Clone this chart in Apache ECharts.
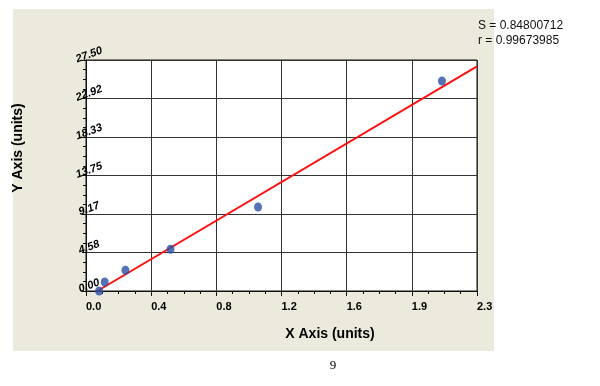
<!DOCTYPE html>
<html><head><meta charset="utf-8">
<script src="https://cdn.jsdelivr.net/npm/echarts@6/dist/echarts.min.js"></script>
<style>html,body{margin:0;padding:0;background:#fff}#c{width:600px;height:386px}</style>
</head><body><div id="c"></div>
<script>
const xTickLabels = ['0.0','0.4','0.8','1.2','1.6','1.9','2.3'];
const yTickLabels = ['0.00','4.58','9.17','13.75','18.33','22.92','27.50'];
const pointsX = [0.077, 0.110, 0.232, 0.497, 1.012, 2.094];
const pointsY = [0.0, 1.07, 2.47, 4.97, 10.0, 25.0];
const fitX = [0.067, 2.3];
const fitY = [0.0, 26.74];
const statS = 'S = 0.84800712';
const statR = 'r = 0.99673985';
const xTitle = 'X Axis (units)';
const yTitle = 'Y Axis (units)';
const pageNum = '9';

const xMax = 2.3, yMax = 27.5;
const xInt = xMax / 6, yInt = yMax / 6;

const chart = echarts.init(document.getElementById('c'), null, {renderer:'canvas'});
chart.setOption({
  animation: false,
  backgroundColor: '#fff',
  graphic: [
    {type:'rect', z:-10, shape:{x:13,y:9,width:481,height:342}, style:{fill:'#eceadc'}},
    {type:'text', left:478, top:20, style:{text:statS, font:'12px "Liberation Sans", Arial', fill:'#111'}},
    {type:'text', left:478, top:35, style:{text:statR, font:'12px "Liberation Sans", Arial', fill:'#111'}},
    {type:'text', x:330, y:334, style:{text:xTitle, font:'bold 14px "Liberation Sans", Arial', fill:'#000', align:'center', verticalAlign:'middle'}},
    {type:'text', x:18, y:148, rotation:Math.PI/2, style:{text:yTitle, font:'bold 14px "Liberation Sans", Arial', fill:'#000', align:'center', verticalAlign:'middle'}},
    {type:'text', x:333, y:366, style:{text:pageNum, font:'13px "Liberation Serif", serif', fill:'#000', align:'center', verticalAlign:'middle'}}
  ],
  grid: {left:86, top:60, right:123, bottom:95, show:true, backgroundColor:'#fff', borderColor:'#111', borderWidth:1},
  xAxis: {
    type:'value', min:0, max:xMax, interval:xInt,
    axisLine:{show:true, onZero:false, lineStyle:{color:'#111', width:1}},
    axisTick:{show:true, length:5, lineStyle:{color:'#111'}},
    minorTick:{show:true, splitNumber:4, length:3, lineStyle:{color:'#111'}},
    splitLine:{show:true, lineStyle:{color:'#333', width:1}},
    axisLabel:{margin:10, align:'left', color:'#000', fontWeight:'bold', fontSize:11, fontFamily:'"Liberation Sans", Arial',
      formatter:function(v){return xTickLabels[Math.round(v/xInt)];}}
  },
  yAxis: {
    type:'value', min:0, max:yMax, interval:yInt,
    axisLine:{show:true, onZero:false, lineStyle:{color:'#111', width:1}},
    axisTick:{show:true, length:4, lineStyle:{color:'#111'}},
    minorTick:{show:true, splitNumber:4, length:3, lineStyle:{color:'#111'}},
    splitLine:{show:true, lineStyle:{color:'#333', width:1}},
    axisLabel:{margin:-5, rotate:20, align:'center', verticalAlign:'bottom', color:'#000', fontWeight:'bold', fontStyle:'italic', fontSize:11, fontFamily:'"Liberation Sans", Arial',
      formatter:function(v){return yTickLabels[Math.round(v/yInt)];}}
  },
  series: [
    {type:'line', data:fitX.map((x,i)=>[x,fitY[i]]), showSymbol:false, lineStyle:{color:'#ff1010', width:2}, z:3},
    {type:'scatter', data:pointsX.map((x,i)=>[x,pointsY[i]]), symbolSize:[8,9], itemStyle:{color:'#2b4fa5'}, z:4}
  ]
});
</script></body></html>
